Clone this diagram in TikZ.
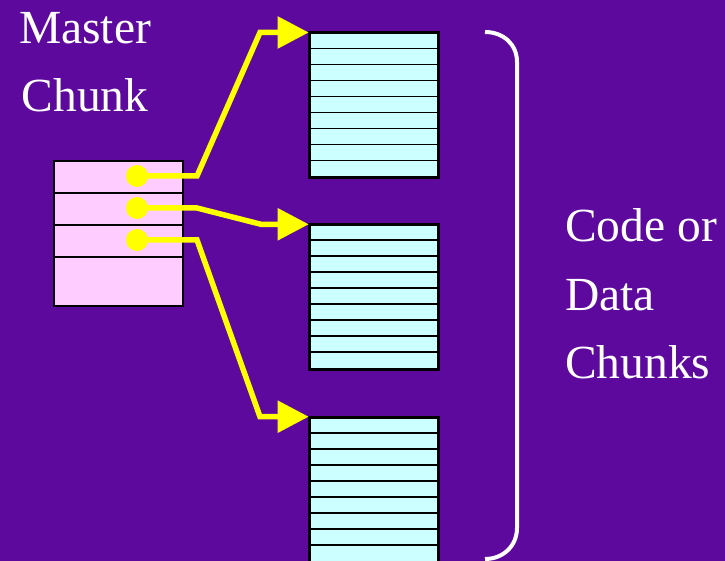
\documentclass[tikz,border=0pt]{standalone}
\usepackage{fontspec}
\setmainfont{Liberation Serif}
\usetikzlibrary{arrows.meta}
\definecolor{bgpurple}{RGB}{94,9,158}
\definecolor{rowpink}{RGB}{255,204,255}
\definecolor{rowcyan}{RGB}{204,255,255}
\definecolor{ptryellow}{RGB}{255,255,0}
\begin{document}
\begin{tikzpicture}[x=1pt,y=-1pt,
  bigtext/.style={text=white,font=\fontsize{47.5}{57}\selectfont,inner sep=0pt},
  masterrow/.style={draw=black,line width=2pt,fill=rowpink,minimum width=129pt,inner sep=0pt,anchor=north west},
  chunkbox/.style={draw=black,line width=2pt,fill=rowcyan,minimum width=128.6pt,minimum height=144pt,inner sep=0pt,anchor=north west},
  rowline/.style={draw=black,line width=1.8pt},
  pointer/.style={draw=ptryellow,line width=5.5pt,line join=miter,-{Triangle[length=31pt,width=31pt]}},
  ptrdot/.style={circle,fill=ptryellow,minimum size=22pt,inner sep=0pt},
  brace/.style={draw=white,line width=4pt}]

% background and page size
\fill[bgpurple] (0,0) rectangle (725,561);
\useasboundingbox (0,0) rectangle (725,561);

% titles
\node[bigtext,anchor=base] (master) at (85,43.3) {Master};
\node[bigtext,anchor=base] (chunk) at (85,111.7) {Chunk};
\node[bigtext,anchor=base west] (code) at (565,241.7) {Code or};
\node[bigtext,anchor=base west] (data) at (565,310) {Data};
\node[bigtext,anchor=base west] (chunks) at (565,378.3) {Chunks};

% master chunk: four entries
\node[masterrow,minimum height=31.8pt] (m1) at (52.5,160.5) {};
\node[masterrow,minimum height=31.7pt] (m2) at (52.5,192.3) {};
\node[masterrow,minimum height=32.3pt] (m3) at (52.5,224) {};
\node[masterrow,minimum height=48.7pt] (m4) at (52.5,256.3) {};

% code / data chunks, nine rows each
\foreach \name/\top in {d1/32.5, d2/224.3, d3/416.7} {
  \node[chunkbox] (\name) at (308.7,\top) {};
  \foreach \k in {1,...,8}
    \draw[rowline] ([yshift=-16*\k pt]\name.north west) -- ([yshift=-16*\k pt]\name.north east);
  \draw[draw=black,line width=2pt] (\name.north west) rectangle (\name.south east);
}

% pointers from the master entries to the chunks
\coordinate (p1) at (137,176);
\coordinate (p2) at (137,208);
\coordinate (p3) at (137,240);
\coordinate (b1) at (197,176);
\coordinate (b2) at (197,208);
\coordinate (b3) at (197,240);
\coordinate (k1) at (260,32.5);
\coordinate (k2) at (261,224.3);
\coordinate (k3) at (260,416.7);

\draw[pointer] (p1) -- (b1) -- (k1) -- (d1.north west);
\draw[pointer] (p2) -- (b2) -- (k2) -- (d2.north west);
\draw[pointer] (p3) -- (b3) -- (k3) -- (d3.north west);

\node[ptrdot] (dot1) at (p1) {};
\node[ptrdot] (dot2) at (p2) {};
\node[ptrdot] (dot3) at (p3) {};

% bracket grouping the chunks
\draw[brace] (485,32) .. controls (503,32) and (517,44) .. (517,62)
  -- (517,528) .. controls (517,546) and (503,559) .. (485,559);
\end{tikzpicture}
\end{document}
